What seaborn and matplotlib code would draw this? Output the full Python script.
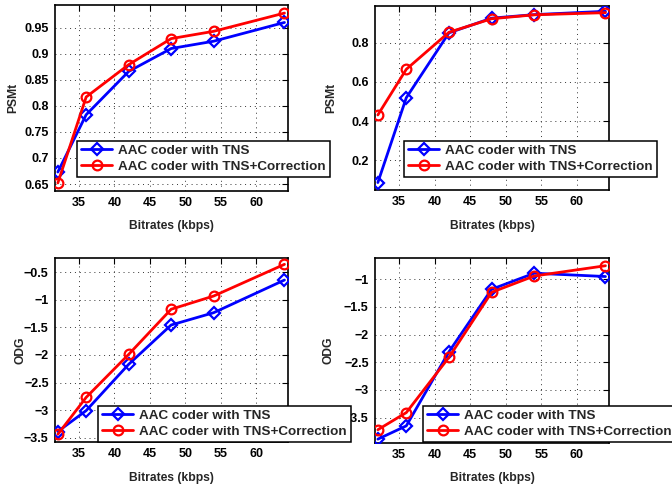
import matplotlib
matplotlib.use("Agg")
import matplotlib.pyplot as plt
import matplotlib.ticker as mticker
import numpy as np
import pandas as pd
import seaborn as sns

# ── Data ──────────────────────────────────────────────────────────────────────
bitrates = [32, 36, 42, 48, 54, 64]
series_names = ["AAC coder with TNS", "AAC coder with TNS+Correction"]

psmt_a_tns = [0.673, 0.783, 0.866, 0.910, 0.924, 0.960]
psmt_a_corr = [0.652, 0.817, 0.879, 0.929, 0.943, 0.978]

psmt_b_tns = [0.086, 0.519, 0.850, 0.925, 0.943, 0.960]
psmt_b_corr = [0.431, 0.664, 0.853, 0.922, 0.942, 0.953]

odg_a_tns = [-3.39, -3.01, -2.17, -1.456, -1.233, -0.64]
odg_a_corr = [-3.44, -2.77, -1.99, -1.17, -0.93, -0.355]

odg_b_tns = [-3.89, -3.65, -2.31, -1.18, -0.89, -0.95]
odg_b_corr = [-3.72, -3.41, -2.41, -1.235, -0.94, -0.755]

# ── Style ─────────────────────────────────────────────────────────────────────
sns.set_theme(style="white")
plt.rcParams["font.family"] = ["Liberation Sans", "DejaVu Sans"]
plt.rcParams["font.weight"] = "bold"
plt.rcParams["axes.unicode_minus"] = True

W, H = 672, 488
fig = plt.figure(figsize=(W / 100, H / 100), dpi=100)
fig.patch.set_facecolor("white")


def px_rect(x0, y0, x1, y1):
    """Pixel box (top-left origin) -> figure fraction rect."""
    return [x0 / W, 1 - y1 / H, (x1 - x0) / W, (y1 - y0) / H]


panels = [
    dict(box=(55, 5, 288, 191), tns=psmt_a_tns, corr=psmt_a_corr,
         ylabel="PSMt", ylim=(0.6366, 0.9935), yticks=np.arange(0.65, 0.951, 0.05),
         leg=(77, 177), ylab_x=13),
    dict(box=(375, 6, 609, 190), tns=psmt_b_tns, corr=psmt_b_corr,
         ylabel="PSMt", ylim=(0.048, 0.987), yticks=[0.2, 0.4, 0.6, 0.8],
         leg=(404, 177), ylab_x=331),
    dict(box=(55, 258, 288, 442), tns=odg_a_tns, corr=odg_a_corr,
         ylabel="ODG", ylim=(-3.58, -0.24), yticks=np.arange(-3.5, -0.49, 0.5),
         leg=(98, 442), ylab_x=20),
    dict(box=(375, 258, 609, 443), tns=odg_b_tns, corr=odg_b_corr,
         ylabel="ODG", ylim=(-3.96, -0.615), yticks=np.arange(-3.5, -0.99, 0.5),
         leg=(423, 442), ylab_x=328),
]

axes = []
for p in panels:
    x0, y0, x1, y1 = p["box"]
    ax = fig.add_axes(px_rect(x0, y0, x1, y1))
    axes.append(ax)
    df = pd.DataFrame({
        "Bitrate": bitrates * 2,
        "value": list(p["tns"]) + list(p["corr"]),
        "series": [series_names[0]] * 6 + [series_names[1]] * 6,
    })
    sns.lineplot(data=df[df["series"] == series_names[0]], x="Bitrate", y="value",
                 color="#0000ff", marker="D", markersize=6.5, markerfacecolor="none",
                 markeredgecolor="#0000ff", markeredgewidth=1.6, linewidth=2,
                 label=series_names[0], ax=ax, legend=False, zorder=3)
    sns.lineplot(data=df[df["series"] == series_names[1]], x="Bitrate", y="value",
                 color="#ff0000", marker="o", markersize=7, markerfacecolor="none",
                 markeredgecolor="#ff0000", markeredgewidth=1.6, linewidth=2,
                 label=series_names[1], ax=ax, legend=False, zorder=4)

    ax.set_xlim(31.6, 64.5)
    ax.set_ylim(*p["ylim"])
    ax.set_xticks([35, 40, 45, 50, 55, 60])
    ax.set_yticks(p["yticks"])
    ax.yaxis.set_major_formatter(mticker.FuncFormatter(
        lambda v, _: f"{v:g}".replace("-", "\u2212")))
    ax.tick_params(direction="in", length=4, width=0.8, labelsize=9,
                   top=True, right=True, pad=4.5, colors="black")
    for lbl in ax.get_xticklabels() + ax.get_yticklabels():
        lbl.set_fontweight("bold")
    ax.grid(True, linestyle=(0, (1, 4)), color="#333333", linewidth=0.7)
    for s in ax.spines.values():
        s.set_visible(True)
        s.set_color("black")
        s.set_linewidth(1.2)
    ax.set_xlabel("Bitrates (kbps)", fontsize=8.7, fontweight="bold")
    ax.set_ylabel(p["ylabel"], fontsize=8.7, fontweight="bold")
    # label positions in axes fraction, from pixel positions in the reference
    ax.xaxis.set_label_coords(0.5, -(35.5) / (y1 - y0))
    ax.xaxis.label.set_va("center")
    ax.yaxis.set_label_coords(-(x0 - p["ylab_x"]) / (x1 - x0), 0.5)
    ax.yaxis.label.set_va("center")
    ax.set_facecolor("white")

# legends drawn last so they sit on top of neighbouring panels
for ax, p in zip(axes, panels):
    lx, ly = p["leg"]
    leg = ax.legend(loc="lower left", bbox_to_anchor=(lx / W, 1 - ly / H),
                    bbox_transform=fig.transFigure, borderaxespad=0,
                    frameon=True, fancybox=False, edgecolor="black",
                    framealpha=1, fontsize=9.7, handlelength=2.3,
                    borderpad=0.3, labelspacing=0.25, handletextpad=0.45)
    leg.get_frame().set_linewidth(1.1)
    for t in leg.get_texts():
        t.set_fontweight("bold")
    leg.set_zorder(20)

# left-hand panels sit above right-hand ones so their legends cover neighbours
for ax, z in zip(axes, [1, 0, 3, 2]):
    ax.set_zorder(z)

fig.savefig("out.png", dpi=100, facecolor="white")
